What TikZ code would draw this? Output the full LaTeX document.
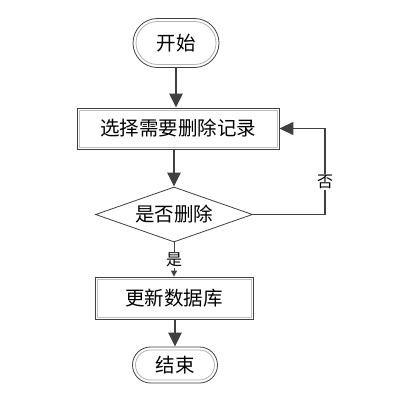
\documentclass[tikz,border=0pt]{standalone}
\usepackage{fontspec}
\newfontfamily\cjk{Noto Sans CJK SC}
\usetikzlibrary{arrows.meta,shapes.misc,shapes.geometric}
\tikzset{
  term/.style={rounded rectangle, draw=black!75, line width=0.8pt, inner sep=0pt, font=\cjk\fontsize{19.5}{19.5}\selectfont},
  terminner/.style={rounded rectangle, draw=black!30, line width=0.8pt, inner sep=0pt},
  procbox/.style={rectangle, draw=black!75, line width=0.8pt, inner sep=0pt, font=\cjk\fontsize{19.5}{19.5}\selectfont},
  procinner/.style={rectangle, draw=black!25, line width=0.8pt, inner sep=0pt},
  decbox/.style={diamond, aspect=2.85, draw=black!75, line width=0.8pt, inner sep=0pt, font=\cjk\fontsize{19.5}{19.5}\selectfont},
  bigarrow/.style={draw=black!75, line width=2.6pt, -{Triangle[width=13pt,length=14pt]}},
  thinarrow/.style={draw=black!75, line width=1pt, -{Triangle[width=6pt,length=6pt]}},
  loopline/.style={draw=black!75, line width=1.3pt, -{Triangle[width=13pt,length=14pt]}},
  lbl/.style={fill=white, inner sep=1pt, font=\cjk\fontsize{16}{16}\selectfont}
}
\begin{document}
\begin{tikzpicture}[x=1pt,y=-1pt]
\path[use as bounding box, fill=white] (0,0) rectangle (414,404);
% start
\node[terminner, minimum width=80pt, minimum height=43pt] (startin) at (176,43) {};
\node[term, minimum width=86pt, minimum height=49pt] (start) at (176,43) {开始};
% select
\node[procinner, minimum width=198pt, minimum height=37pt] (selin) at (178,128.5) {};
\node[procbox, minimum width=202pt, minimum height=41pt] (sel) at (178,128.5) {选择需要删除记录};
% decision
\node[decbox, minimum width=157pt, minimum height=55pt] (dec) at (174,214.5) {是否删除};
% update
\node[procinner, minimum width=154pt, minimum height=38pt] (updin) at (174,298) {};
\node[procbox, minimum width=158pt, minimum height=42pt] (upd) at (174,298) {更新数据库};
% end
\node[terminner, minimum width=79pt, minimum height=30pt] (endin) at (175,365) {};
\node[term, minimum width=85pt, minimum height=36pt] (end) at (175,365) {结束};
% connectors
\draw[bigarrow] (start.south) -- (start.south |- sel.north);
\draw[bigarrow] (sel.south -| dec.north) -- (dec.north);
\draw[thinarrow] (dec.south) -- (dec.south |- upd.north);
\node[lbl] (yes) at (174,260) {是};
\draw[bigarrow] (upd.south -| end.north) -- (end.north);
\coordinate (c1) at (325,214.5);
\coordinate (c2) at (325,128.5);
\draw[loopline] (dec.east) -- (c1) -- (c2) -- (sel.east);
\node[lbl] (no) at (325,182) {否};
\end{tikzpicture}
\end{document}
